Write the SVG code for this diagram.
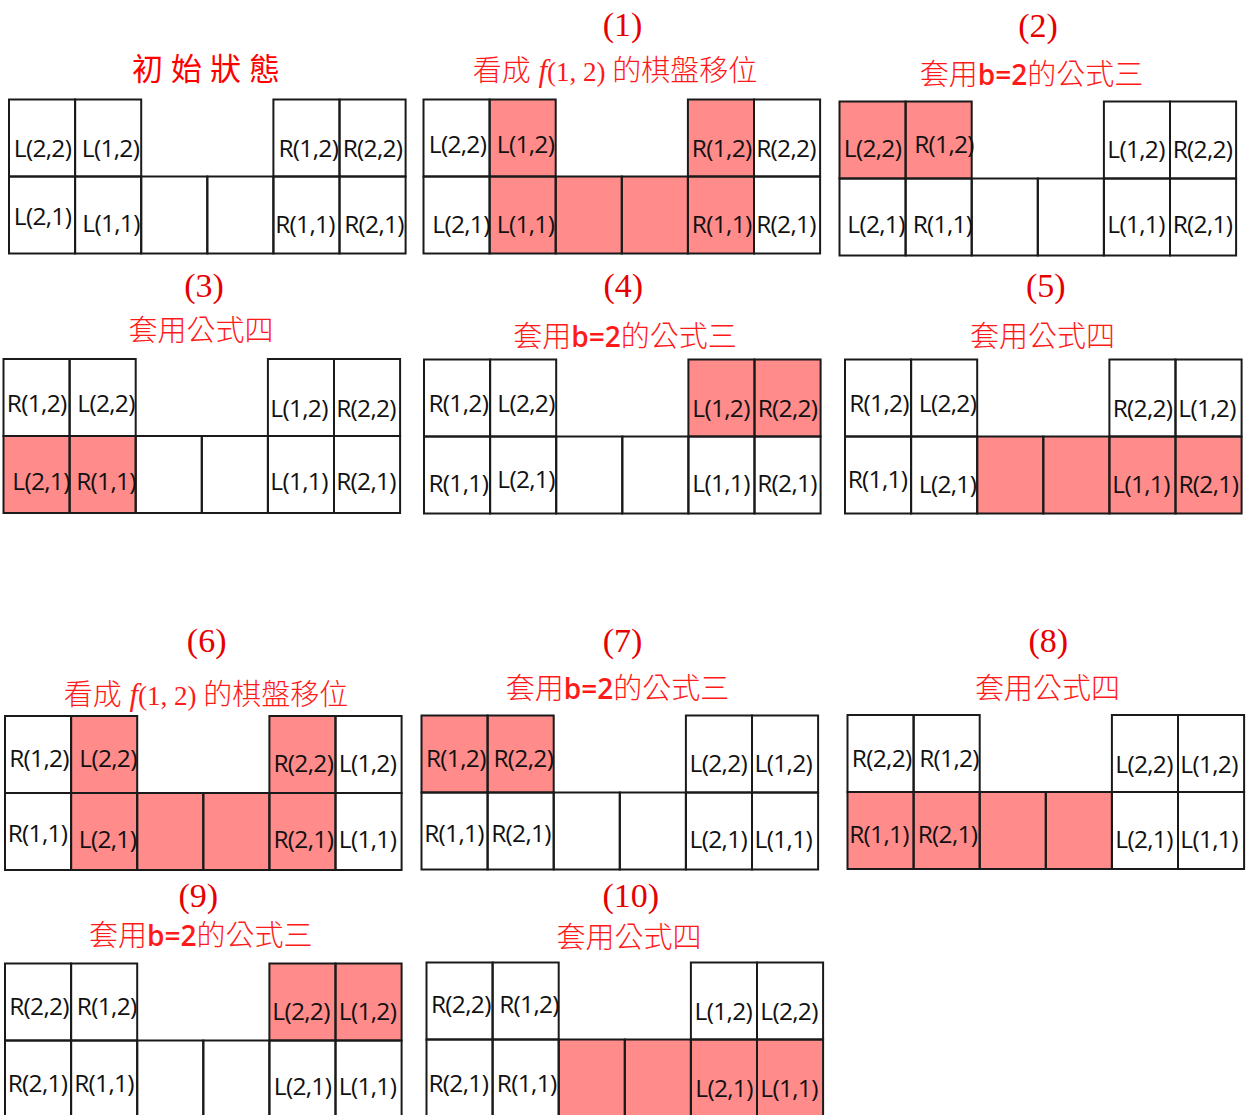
<svg xmlns="http://www.w3.org/2000/svg" xmlns:xlink="http://www.w3.org/1999/xlink" width="1249" height="1115" viewBox="0 0 1249 1115">
<style>
.g{fill:none;stroke:#1a1a1a;stroke-width:2}
.h{fill:#ff8b8b;stroke:none}
.l{font-family:"Open Sans","Liberation Sans",sans-serif;font-size:24.5px;letter-spacing:-0.7px;fill:#111;text-anchor:middle}
.n{font-family:"Liberation Serif","Times New Roman",serif;font-size:34px;fill:#e60000;text-anchor:middle}
.s{font-family:"Noto Sans CJK TC","Noto Sans CJK SC",sans-serif;font-size:29px;font-weight:300;fill:#ff1a1a;text-anchor:middle}
.b{font-family:"Open Sans","Liberation Sans",sans-serif;font-weight:600;font-size:28px}
.m{font-family:"Liberation Serif","Times New Roman",serif;font-size:27px}
.f{font-family:"Liberation Serif","Times New Roman",serif;font-size:31px;font-style:italic}
.t{font-family:"Noto Sans CJK TC","Noto Sans CJK SC",serif;font-size:31px;letter-spacing:8px;fill:#f00;text-anchor:middle}
</style>
<defs>
<g id="grid">
<rect class="g" x="0" y="0" width="66.1" height="77"/>
<rect class="g" x="66.1" y="0" width="66.1" height="77"/>
<rect class="g" x="264.4" y="0" width="66.1" height="77"/>
<rect class="g" x="330.5" y="0" width="66.1" height="77"/>
<rect class="g" x="0" y="77" width="66.1" height="77"/>
<rect class="g" x="66.1" y="77" width="66.1" height="77"/>
<rect class="g" x="132.2" y="77" width="66.1" height="77"/>
<rect class="g" x="198.3" y="77" width="66.1" height="77"/>
<rect class="g" x="264.4" y="77" width="66.1" height="77"/>
<rect class="g" x="330.5" y="77" width="66.1" height="77"/>
</g>
</defs>
<rect width="1249" height="1115" fill="#fff"/>

<g id="panel0">
<text class="t" x="210" y="80">初始狀態</text>
<g transform="translate(9,99.5)"><use xlink:href="#grid"/></g>
<text class="l" x="42.5" y="157">L(2,2)</text>
<text class="l" x="110.5" y="157">L(1,2)</text>
<text class="l" x="308.3" y="157">R(1,2)</text>
<text class="l" x="372.5" y="157">R(2,2)</text>
<text class="l" x="42.5" y="225">L(2,1)</text>
<text class="l" x="111" y="231.7">L(1,1)</text>
<text class="l" x="305" y="233">R(1,1)</text>
<text class="l" x="374" y="233">R(2,1)</text>
</g>

<g id="panel1">
<text class="n" x="622.5" y="36">(1)</text>
<text class="s" x="615" y="81">看成<tspan class="f"> f</tspan><tspan class="m">(1, 2) </tspan>的棋盤移位</text>
<g transform="translate(423.5,99.5)">
<rect class="h" x="66.1" y="0" width="66.1" height="77"/>
<rect class="h" x="264.4" y="0" width="66.1" height="77"/>
<rect class="h" x="66.1" y="77" width="264.4" height="77"/>
<use xlink:href="#grid"/></g>
<text class="l" x="457.5" y="153.3">L(2,2)</text>
<text class="l" x="525.5" y="153.3">L(1,2)</text>
<text class="l" x="721.7" y="156.7">R(1,2)</text>
<text class="l" x="786" y="156.7">R(2,2)</text>
<text class="l" x="461" y="233.3">L(2,1)</text>
<text class="l" x="525.5" y="233.3">L(1,1)</text>
<text class="l" x="721.7" y="233.3">R(1,1)</text>
<text class="l" x="786" y="233.3">R(2,1)</text>
</g>

<g id="panel2">
<text class="n" x="1038" y="37.3">(2)</text>
<text class="s" x="1031.5" y="85">套用<tspan class="b">b=2</tspan>的公式三</text>
<g transform="translate(839.5,101.5)">
<rect class="h" x="0" y="0" width="132.2" height="77"/>
<use xlink:href="#grid"/></g>
<text class="l" x="872.5" y="156.7">L(2,2)</text>
<text class="l" x="944" y="153.3">R(1,2)</text>
<text class="l" x="1136" y="158.3">L(1,2)</text>
<text class="l" x="1202.5" y="158.3">R(2,2)</text>
<text class="l" x="876" y="233.3">L(2,1)</text>
<text class="l" x="942.5" y="233.3">R(1,1)</text>
<text class="l" x="1136" y="233.3">L(1,1)</text>
<text class="l" x="1202.5" y="233.3">R(2,1)</text>
</g>

<g id="panel3">
<text class="n" x="204" y="296.7">(3)</text>
<text class="s" x="201" y="341">套用公式四</text>
<g transform="translate(3.5,359)">
<rect class="h" x="0" y="77" width="132.2" height="77"/>
<use xlink:href="#grid"/></g>
<text class="l" x="36.7" y="411.7">R(1,2)</text>
<text class="l" x="106" y="411.7">L(2,2)</text>
<text class="l" x="299" y="416.7">L(1,2)</text>
<text class="l" x="366" y="416.7">R(2,2)</text>
<text class="l" x="41" y="490">L(2,1)</text>
<text class="l" x="106" y="490">R(1,1)</text>
<text class="l" x="299" y="490">L(1,1)</text>
<text class="l" x="366" y="490">R(2,1)</text>
</g>

<g id="panel4">
<text class="n" x="623.3" y="296.7">(4)</text>
<text class="s" x="625" y="347">套用<tspan class="b">b=2</tspan>的公式三</text>
<g transform="translate(424,359.5)">
<rect class="h" x="264.4" y="0" width="132.2" height="77"/>
<use xlink:href="#grid"/></g>
<text class="l" x="458.3" y="411.7">R(1,2)</text>
<text class="l" x="526" y="411.7">L(2,2)</text>
<text class="l" x="721" y="416.7">L(1,2)</text>
<text class="l" x="787.5" y="416.7">R(2,2)</text>
<text class="l" x="458.3" y="491.7">R(1,1)</text>
<text class="l" x="526" y="488.3">L(2,1)</text>
<text class="l" x="721" y="491.7">L(1,1)</text>
<text class="l" x="787" y="491.7">R(2,1)</text>
</g>

<g id="panel5">
<text class="n" x="1045.8" y="297">(5)</text>
<text class="s" x="1042.5" y="347">套用公式四</text>
<g transform="translate(845,359.5)">
<rect class="h" x="132.2" y="77" width="264.4" height="77"/>
<use xlink:href="#grid"/></g>
<text class="l" x="879" y="411.7">R(1,2)</text>
<text class="l" x="947.5" y="411.7">L(2,2)</text>
<text class="l" x="1142.5" y="416.7">R(2,2)</text>
<text class="l" x="1207" y="416.7">L(1,2)</text>
<text class="l" x="877.5" y="488.3">R(1,1)</text>
<text class="l" x="947.5" y="493.3">L(2,1)</text>
<text class="l" x="1141" y="493.3">L(1,1)</text>
<text class="l" x="1208.3" y="493.3">R(2,1)</text>
</g>

<g id="panel6">
<text class="n" x="206.7" y="651.7">(6)</text>
<text class="s" x="206" y="704.5">看成<tspan class="f"> f</tspan><tspan class="m">(1, 2) </tspan>的棋盤移位</text>
<g transform="translate(5,716)">
<rect class="h" x="66.1" y="0" width="66.1" height="77"/>
<rect class="h" x="264.4" y="0" width="66.1" height="77"/>
<rect class="h" x="66.1" y="77" width="264.4" height="77"/>
<use xlink:href="#grid"/></g>
<text class="l" x="39" y="766.7">R(1,2)</text>
<text class="l" x="108" y="766.7">L(2,2)</text>
<text class="l" x="303.3" y="771.7">R(2,2)</text>
<text class="l" x="367.5" y="771.7">L(1,2)</text>
<text class="l" x="37.5" y="841.7">R(1,1)</text>
<text class="l" x="107.5" y="848.3">L(2,1)</text>
<text class="l" x="303.3" y="848.3">R(2,1)</text>
<text class="l" x="367.5" y="848.3">L(1,1)</text>
</g>

<g id="panel7">
<text class="n" x="622.5" y="651.7">(7)</text>
<text class="s" x="617.5" y="698.5">套用<tspan class="b">b=2</tspan>的公式三</text>
<g transform="translate(421.5,715.5)">
<rect class="h" x="0" y="0" width="132.2" height="77"/>
<use xlink:href="#grid"/></g>
<text class="l" x="455.8" y="766.7">R(1,2)</text>
<text class="l" x="523.3" y="766.7">R(2,2)</text>
<text class="l" x="718.3" y="771.7">L(2,2)</text>
<text class="l" x="783.3" y="771.7">L(1,2)</text>
<text class="l" x="454" y="841.7">R(1,1)</text>
<text class="l" x="521" y="841.7">R(2,1)</text>
<text class="l" x="718.3" y="848.3">L(2,1)</text>
<text class="l" x="783.3" y="848.3">L(1,1)</text>
</g>

<g id="panel8">
<text class="n" x="1048.3" y="651.7">(8)</text>
<text class="s" x="1047.5" y="698.5">套用公式四</text>
<g transform="translate(847.5,715)">
<rect class="h" x="0" y="77" width="264.4" height="77"/>
<use xlink:href="#grid"/></g>
<text class="l" x="881.7" y="766.7">R(2,2)</text>
<text class="l" x="949" y="766.7">R(1,2)</text>
<text class="l" x="1144" y="773.3">L(2,2)</text>
<text class="l" x="1209" y="773.3">L(1,2)</text>
<text class="l" x="879" y="843.3">R(1,1)</text>
<text class="l" x="947.5" y="843.3">R(2,1)</text>
<text class="l" x="1144" y="848.3">L(2,1)</text>
<text class="l" x="1209" y="848.3">L(1,1)</text>
</g>

<g id="panel9">
<text class="n" x="198.3" y="906.7">(9)</text>
<text class="s" x="200.8" y="946">套用<tspan class="b">b=2</tspan>的公式三</text>
<g transform="translate(5,963.5)">
<rect class="h" x="264.4" y="0" width="132.2" height="77"/>
<use xlink:href="#grid"/></g>
<text class="l" x="39" y="1015">R(2,2)</text>
<text class="l" x="106.7" y="1015">R(1,2)</text>
<text class="l" x="301" y="1020">L(2,2)</text>
<text class="l" x="367.5" y="1020">L(1,2)</text>
<text class="l" x="37.5" y="1091.7">R(2,1)</text>
<text class="l" x="104" y="1091.7">R(1,1)</text>
<text class="l" x="302.5" y="1095">L(2,1)</text>
<text class="l" x="367.5" y="1095">L(1,1)</text>
</g>

<g id="panel10">
<text class="n" x="630.8" y="906.7">(10)</text>
<text class="s" x="629" y="948">套用公式四</text>
<g transform="translate(426.5,962.5)">
<rect class="h" x="132.2" y="77" width="264.4" height="77"/>
<use xlink:href="#grid"/></g>
<text class="l" x="460.8" y="1013.3">R(2,2)</text>
<text class="l" x="529" y="1013.3">R(1,2)</text>
<text class="l" x="723.3" y="1020">L(1,2)</text>
<text class="l" x="789" y="1020">L(2,2)</text>
<text class="l" x="458.3" y="1091.7">R(2,1)</text>
<text class="l" x="526.7" y="1091.7">R(1,1)</text>
<text class="l" x="724" y="1096.7">L(2,1)</text>
<text class="l" x="789" y="1096.7">L(1,1)</text>
</g>

<g id="connectors"></g>
</svg>
